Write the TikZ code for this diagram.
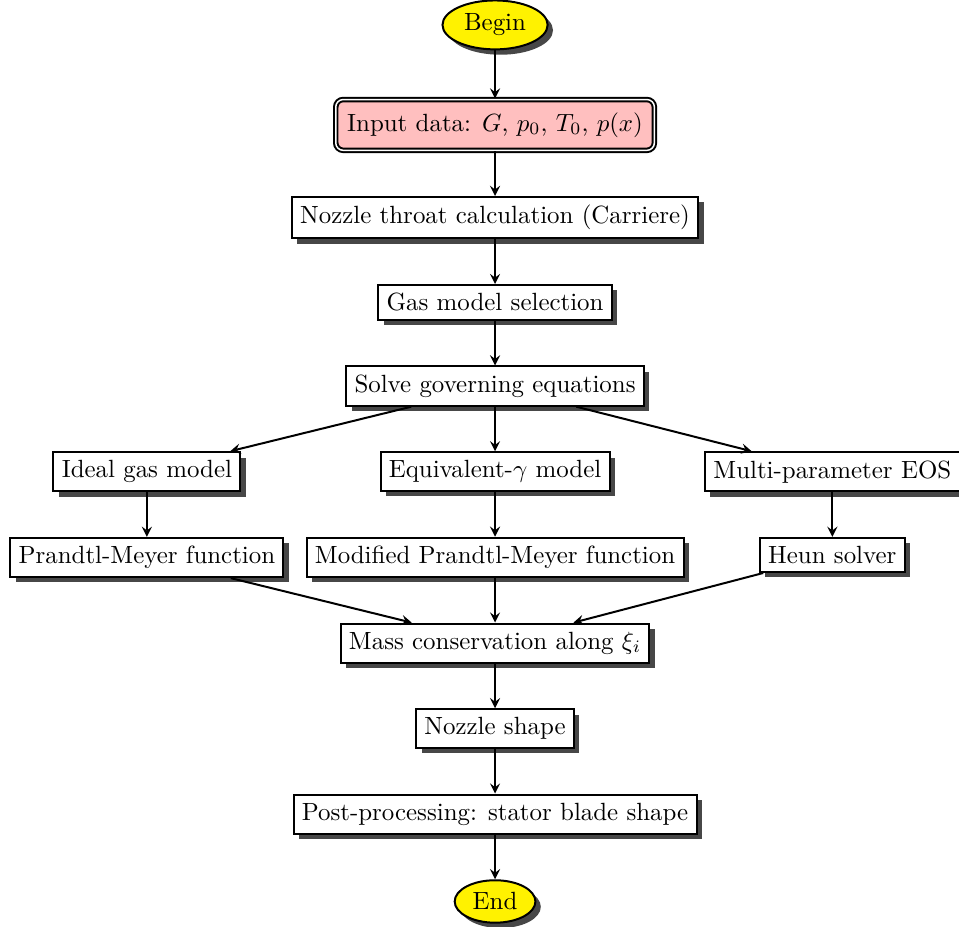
\documentclass[tikz,border=0pt]{standalone}
\usetikzlibrary{positioning,shadows,shapes.geometric}
\begin{document}
\begin{tikzpicture}[->,>=stealth,thick,node distance=0.63cm,
                    block/.style={rectangle,draw,fill=white,drop shadow={fill=black!80,opacity=0.9}},
                    terminal/.style={ellipse,draw,fill=yellow,inner sep=2.5pt,drop shadow={fill=black!80,opacity=0.9}},
                    inputbox/.style={rectangle,rounded corners=3pt,draw,double,fill=red!25,inner xsep=4.6pt,inner ysep=5.2pt}]
  \useasboundingbox (-198.8pt,10pt) rectangle (186.3pt,-362.2pt);

  \node[terminal] (begin) at (0,0) {Begin};
  \node[inputbox] (input) [below=0.68cm of begin] {Input data: $G$, $p_0$, $T_0$, $p(x)$};
  \node[block] (throat) [below=of input] {Nozzle throat calculation (Carriere)};
  \node[block] (gas) [below=of throat] {Gas model selection};
  \node[block] (solve) [below=of gas] {Solve governing equations};
  \node[block] (equiv) [below=of solve] {Equivalent-$\gamma$ model};
  \node[block] (ideal) [left=1.95cm of equiv] {Ideal gas model};
  \node[block] (multi) [right=1.32cm of equiv] {Multi-parameter EOS};
  \node[block] (pm) [below=of ideal] {Prandtl-Meyer function};
  \node[block] (modpm) [below=of equiv] {Modified Prandtl-Meyer function};
  \node[block] (heun) [below=of multi] {Heun solver};
  \node[block] (mass) [below=of modpm] {Mass conservation along $\xi_i$};
  \node[block] (shape) [below=of mass] {Nozzle shape};
  \node[block] (post) [below=of shape] {Post-processing: stator blade shape};
  \node[terminal] (end) [below=of post] {End};

  \path
    (begin) edge (input)
    (input) edge (throat)
    (throat) edge (gas)
    (gas) edge (solve)
    (solve) edge (ideal)
            edge (equiv)
            edge (multi)
    (ideal) edge (pm)
    (equiv) edge (modpm)
    (multi) edge (heun)
    (pm) edge (mass)
    (modpm) edge (mass)
    (heun) edge (mass)
    (mass) edge (shape)
    (shape) edge (post)
    (post) edge (end);
\end{tikzpicture}
\end{document}
